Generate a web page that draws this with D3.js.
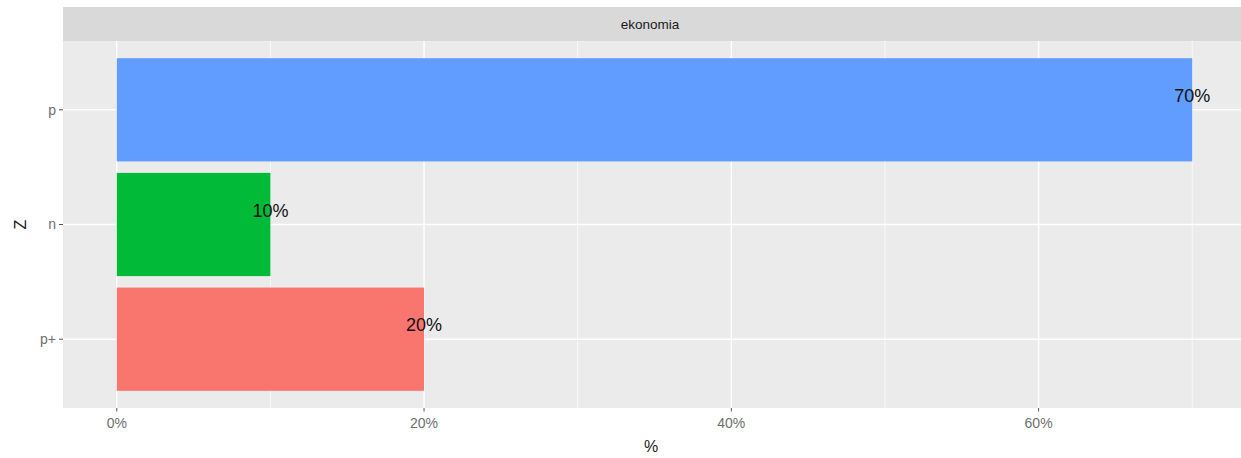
<!DOCTYPE html>
<html><head><meta charset="utf-8">
<script src="https://cdn.jsdelivr.net/npm/d3@7"></script>
<style>body{margin:0;background:#fff}text{font-family:"Liberation Sans",Arial,sans-serif}</style>
</head><body><svg id="c" width="1241" height="458"></svg>
<script>
const categories = ["p+", "n", "p"];
const values = [20, 10, 70];
const colors = ["#F8766D", "#00BA38", "#619CFF"];
const xTicks = [0, 20, 40, 60];
const xMinor = [10, 30, 50, 70];
const facet = "ekonomia";

const svg = d3.select("#c");
const W = 1241, H = 458;
const pL = 63, pR = 1246, pT = 41, pB = 408;
const sT = 7;

const x = d3.scaleLinear().domain([-3.5, 73.5]).range([pL, pR]);
const yc = d3.scaleLinear().domain([0.4, 3.6]).range([pB, pT]);
const yPos = c => yc(categories.indexOf(c) + 1);
const bw = (yc(0) - yc(0.9));

svg.append("clipPath").attr("id","pc").append("rect")
  .attr("x", pL).attr("y", pT).attr("width", W - pL).attr("height", pB - pT);

// strip
svg.append("rect").attr("x", pL).attr("y", sT).attr("width", W - pL).attr("height", pT - sT).attr("fill", "#D9D9D9");
svg.append("text").attr("x", 650).attr("y", (sT + pT) / 2).attr("dy", "0.35em")
  .attr("text-anchor", "middle").attr("font-size", 13.5).attr("fill", "#1A1A1A").text(facet);

const g = svg.append("g").attr("clip-path", "url(#pc)");
g.append("rect").attr("x", pL).attr("y", pT).attr("width", pR - pL).attr("height", pB - pT).attr("fill", "#EBEBEB");
g.selectAll(".mn").data(xMinor).join("line").attr("x1", d => x(d)).attr("x2", d => x(d))
  .attr("y1", pT).attr("y2", pB).attr("stroke", "#fff").attr("stroke-width", 0.7);
g.selectAll(".mj").data(xTicks).join("line").attr("x1", d => x(d)).attr("x2", d => x(d))
  .attr("y1", pT).attr("y2", pB).attr("stroke", "#fff").attr("stroke-width", 1.4);
g.selectAll(".my").data(categories).join("line").attr("x1", pL).attr("x2", pR)
  .attr("y1", d => yPos(d)).attr("y2", d => yPos(d)).attr("stroke", "#fff").attr("stroke-width", 1.4);

// bars
g.selectAll(".bar").data(categories).join("rect")
  .attr("x", x(0)).attr("y", d => yPos(d) - bw / 2)
  .attr("width", (d, i) => x(values[i]) - x(0)).attr("height", bw)
  .attr("fill", (d, i) => colors[i]);

// labels
svg.selectAll(".lab").data(categories).join("text")
  .attr("x", (d, i) => x(values[i])).attr("y", d => yPos(d) - 14).attr("dy", "0.35em")
  .attr("text-anchor", "middle").attr("font-size", 18).attr("fill", "#111").text((d, i) => values[i] + "%");

// x axis
const xa = svg.append("g");
xa.selectAll("line").data(xTicks).join("line").attr("x1", d => x(d)).attr("x2", d => x(d))
  .attr("y1", pB).attr("y2", pB + 3.5).attr("stroke", "#555").attr("stroke-width", 1);
xa.selectAll("text").data(xTicks).join("text").attr("x", d => x(d)).attr("y", 428)
  .attr("text-anchor", "middle").attr("font-size", 14).attr("fill", "#6E6E6E").text(d => d + "%");
svg.append("text").attr("x", 651).attr("y", 452).attr("text-anchor", "middle")
  .attr("font-size", 16).attr("fill", "#222").text("%");

// y axis
const ya = svg.append("g");
ya.selectAll("line").data(categories).join("line").attr("x1", pL - 4).attr("x2", pL)
  .attr("y1", d => yPos(d)).attr("y2", d => yPos(d)).attr("stroke", "#555").attr("stroke-width", 1);
ya.selectAll("text").data(categories).join("text").attr("x", pL - 7).attr("y", d => yPos(d)).attr("dy", "0.35em")
  .attr("text-anchor", "end").attr("font-size", 14).attr("fill", "#6E6E6E").text(d => d);
svg.append("text").attr("transform", `translate(${20},${(pT + pB) / 2}) rotate(-90)`).attr("dy", "0.35em")
  .attr("text-anchor", "middle").attr("font-size", 16).attr("fill", "#222").text("Z");
</script></body></html>
